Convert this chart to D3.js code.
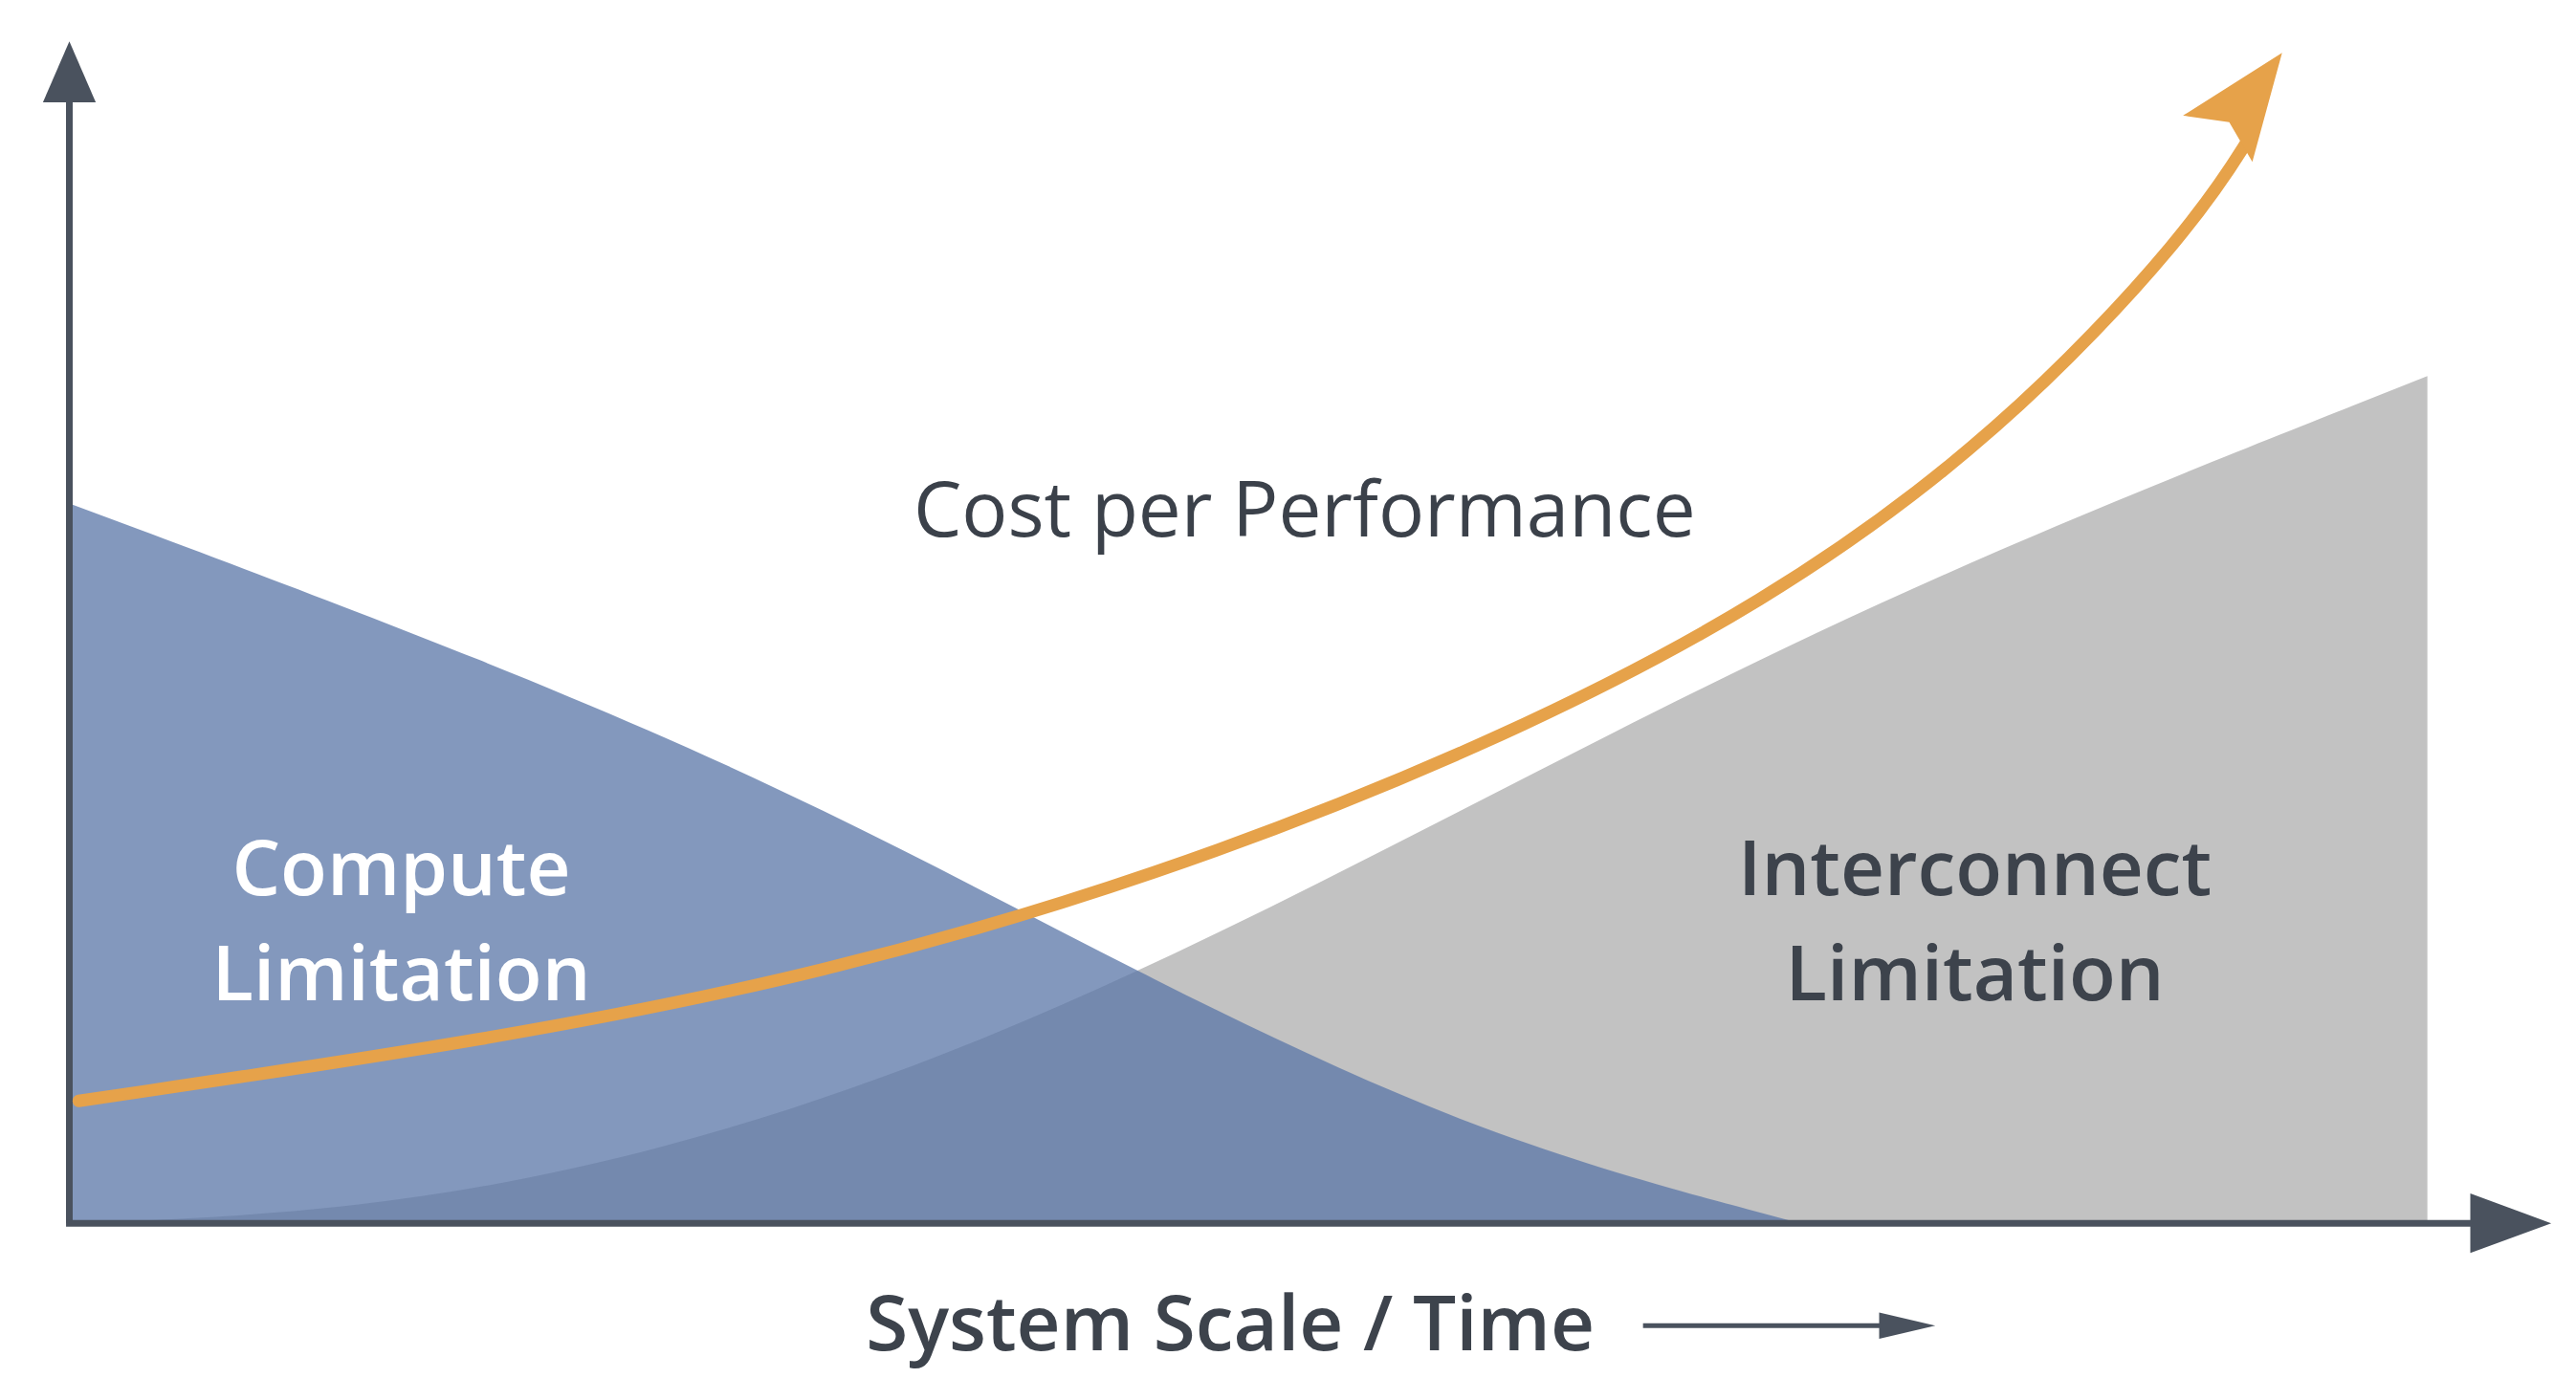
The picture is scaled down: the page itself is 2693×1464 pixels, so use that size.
<!DOCTYPE html>
<html><head><meta charset="utf-8">
<script src="https://cdn.jsdelivr.net/npm/d3@7"></script>
<style>html,body{margin:0;padding:0;background:#fff;overflow:hidden}</style>
</head><body><svg id="c" width="2693" height="1464"></svg>
<script>
// data (x: system scale 0..100, y: relative level)
const computeX = [0, 18, 32, 46, 60, 73.4];
const computeY = [100, 78, 58, 33.5, 11.7, 0];
const interX = [0, 12, 25, 39, 53, 67, 81, 100];
const interY = [0, 1.5, 9.4, 25, 47, 71, 93, 117.7];
const costX = [0.4, 18, 32, 46, 60, 72, 82, 90, 92.6];
const costY = [17, 25.5, 34.6, 48, 66, 86, 110, 138, 151.6];
const labels = {cost:"Cost per Performance", compute:["Compute","Limitation"], inter:["Interconnect","Limitation"], xaxis:"System Scale / Time"};

const s = 2693/1560;
const svg = d3.select("#c");
const x = d3.scaleLinear().domain([0,100]).range([42*s, 1470*s]);
const y = d3.scaleLinear().domain([0,100]).range([741*s, 305*s]);
const area = d3.area().x(d=>x(d[0])).y0(y(0)).y1(d=>y(d[1])).curve(d3.curveBasis);
const line = d3.line().x(d=>x(d[0])).y(d=>y(d[1])).curve(d3.curveBasis);
const ax = "#4a525e";

const interData = interX.map((v,i)=>[v,interY[i]]);
svg.append("path").attr("d", area(interData)).attr("fill","#c2c2c2");
const compData = computeX.map((v,i)=>[v,computeY[i]]);
svg.append("path").attr("d", area(compData)).attr("fill","rgb(92,120,168)").attr("fill-opacity",0.76);

// axes
svg.append("line").attr("x1",42*s).attr("x2",42*s).attr("y1",741*s).attr("y2",50*s).attr("stroke",ax).attr("stroke-width",7);
svg.append("path").attr("d",`M${42*s},${25*s} L${26*s},${62*s} L${58*s},${62*s}Z`).attr("fill",ax);
svg.append("line").attr("x1",40*s).attr("x2",1510*s).attr("y1",741*s).attr("y2",741*s).attr("stroke",ax).attr("stroke-width",7);
svg.append("path").attr("d",`M${1545*s},${741*s} L${1496*s},${723*s} L${1496*s},${759*s}Z`).attr("fill",ax);

// cost curve
const costData = costX.map((v,i)=>[v,costY[i]]);
svg.append("path").attr("d", line(costData)).attr("fill","none").attr("stroke","#e6a24a").attr("stroke-width",13).attr("stroke-linecap","round");
svg.append("path").attr("d",`M${1382*s},${32*s} L${1322*s},${70*s} L${1350*s},${74*s} L${1364*s},${98*s}Z`).attr("fill","#e6a24a");

const F = "'Open Sans', 'Noto Sans', sans-serif";
svg.append("text").attr("x",790*s).attr("y",325*s).attr("text-anchor","middle").attr("font-family",F).attr("font-size",80).attr("fill","#3b414a").text(labels.cost);
labels.compute.forEach((t,i)=>svg.append("text").attr("x",243*s).attr("y",(542+64*i)*s).attr("text-anchor","middle").attr("font-family",F).attr("font-weight",600).attr("font-size",80).attr("fill","#fff").text(t));
labels.inter.forEach((t,i)=>svg.append("text").attr("x",1196*s).attr("y",(542+64*i)*s).attr("text-anchor","middle").attr("font-family",F).attr("font-weight",600).attr("font-size",80).attr("fill","#3d434c").text(t));
svg.append("text").attr("x",745*s).attr("y",818*s).attr("text-anchor","middle").attr("font-family",F).attr("font-weight",600).attr("font-size",80).attr("fill","#3d434c").text(labels.xaxis);
svg.append("line").attr("x1",995*s).attr("x2",1150*s).attr("y1",803*s).attr("y2",803*s).attr("stroke",ax).attr("stroke-width",5);
svg.append("path").attr("d",`M${1172*s},${803*s} L${1138*s},${795*s} L${1138*s},${811*s}Z`).attr("fill",ax);
</script></body></html>
